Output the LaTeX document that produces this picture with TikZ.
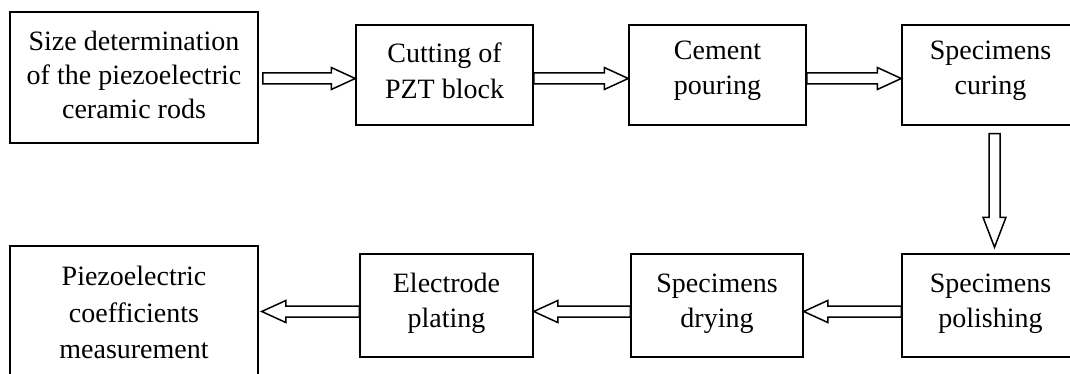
\documentclass[tikz,border=0pt]{standalone}
\usepackage{fontspec}
\setmainfont{Liberation Serif}
\usetikzlibrary{calc}
% horizontal hollow block arrow: #1 start, #2 tip, #3 head length (signed)
\newcommand{\harrow}[3]{%
  \draw[blk] let \p1=(#1), \p2=(#2) in
    (\x1,{\y2+5.5pt}) -- ({\x2-(#3)},{\y2+5.5pt}) -- ({\x2-(#3)},{\y2+11pt}) -- (\x2,\y2)
    -- ({\x2-(#3)},{\y2-11pt}) -- ({\x2-(#3)},{\y2-5.5pt}) -- (\x1,{\y2-5.5pt}) -- cycle;}
% vertical (downward) hollow block arrow: #1 start, #2 tip
\newcommand{\varrow}[2]{%
  \draw[blk] let \p1=(#1), \p2=(#2) in
    ({\x2-5.5pt},\y1) -- ({\x2-5.5pt},{\y2+30pt}) -- ({\x2-11.5pt},{\y2+30pt}) -- (\x2,\y2)
    -- ({\x2+11.5pt},{\y2+30pt}) -- ({\x2+5.5pt},{\y2+30pt}) -- ({\x2+5.5pt},\y1) -- cycle;}
\begin{document}
\begin{tikzpicture}[x=1pt,y=-1pt,
  box/.style={draw=black, line width=1.5pt, inner sep=0pt},
  txt/.style={align=center, inner sep=0pt, font=\fontsize{28}{35.5}\selectfont},
  blk/.style={draw=black, line width=1.5pt, fill=white, line join=miter}]
\useasboundingbox (0,0) rectangle (1070,374);
\clip (0,0) rectangle (1070,374);
\fill[white] (0,0) rectangle (1070,374);
% top row
\node[box, minimum width=248pt, minimum height=131pt] (b1) at (134,77.5) {};
\node[box, minimum width=177pt, minimum height=100pt] (b2) at (444.5,75) {};
\node[box, minimum width=177pt, minimum height=100pt] (b3) at (717.5,75) {};
\node[box, minimum width=177pt, minimum height=100pt] (b4) at (990.5,75) {};
% bottom row
\node[box, minimum width=177pt, minimum height=103pt] (b5) at (990.5,305.5) {};
\node[box, minimum width=172pt, minimum height=103pt] (b6) at (717,305.5) {};
\node[box, minimum width=173pt, minimum height=103pt] (b7) at (446.5,305.5) {};
\node[box, minimum width=248pt, minimum height=131pt] (b8) at (134,311.5) {};
% texts
\node[txt, font=\fontsize{28}{34}\selectfont] (t1) at ([yshift=3pt]b1.center) {Size determination\\of the piezoelectric\\ceramic rods};
\node[txt] (t2) at ([yshift=4pt]b2.center) {Cutting of\\PZT block};
\node[txt] (t3) at ([yshift=4pt]b3.center) {Cement\\pouring};
\node[txt] (t4) at ([yshift=4pt]b4.center) {Specimens\\curing};
\node[txt] (t5) at ([yshift=2pt]b5.center) {Specimens\\polishing};
\node[txt] (t6) at ([yshift=2pt]b6.center) {Specimens\\drying};
\node[txt] (t7) at ([yshift=2pt]b7.center) {Electrode\\plating};
\node[txt, font=\fontsize{28}{36.5}\selectfont] (t8) at ([yshift=-1pt]b8.center) {Piezoelectric\\coefficients\\measurement};
% arrows
\harrow{[xshift=4pt]b1.east}{[yshift=-3.5pt]b2.west}{24pt}
\harrow{b2.east}{[yshift=-3.5pt]b3.west}{24pt}
\harrow{b3.east}{[yshift=-3.5pt]b4.west}{24pt}
\varrow{[yshift=-8pt]b4.south}{[xshift=4pt,yshift=6pt]b5.north}
\harrow{b5.west}{[yshift=-6pt]b6.east}{-24pt}
\harrow{b6.west}{[yshift=-6pt]b7.east}{-24pt}
\harrow{b7.west}{[xshift=3pt]b8.east}{-24pt}
\end{tikzpicture}
\end{document}
